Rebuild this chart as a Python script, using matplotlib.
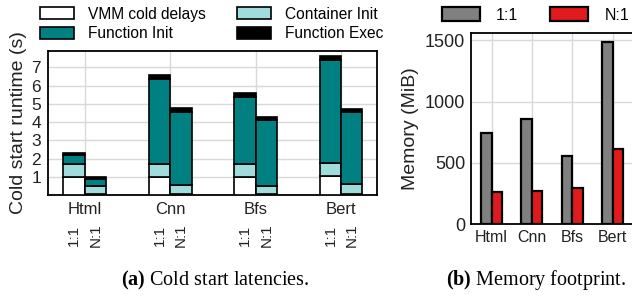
import matplotlib.pyplot as plt
import numpy as np
from matplotlib.patches import Patch

plt.rcParams['font.family'] = ['Liberation Sans', 'DejaVu Sans']
plt.rcParams['mathtext.fontset'] = 'custom'
plt.rcParams['mathtext.bf'] = 'Liberation Serif:bold'
plt.rcParams['mathtext.rm'] = 'Liberation Serif'

# cold start breakdown (seconds), per app: [1:1, N:1]
apps = ['Html', 'Cnn', 'Bfs', 'Bert']
modes = ['1:1', 'N:1']
vmm_cold = [[1.0, 0.05], [1.0, 0.05], [1.0, 0.05], [1.03, 0.05]]
container_init = [[0.69, 0.45], [0.69, 0.50], [0.70, 0.47], [0.72, 0.54]]
function_init = [[0.52, 0.38], [4.70, 4.00], [3.70, 3.57], [5.67, 3.96]]
function_exec = [[0.09, 0.10], [0.22, 0.20], [0.20, 0.20], [0.18, 0.15]]

# memory footprint (MiB)
mem_1to1 = [742, 856, 556, 1486]
mem_nto1 = [259, 273, 292, 611]

stage_names = ['VMM cold delays', 'Container Init', 'Function Init', 'Function Exec']
stage_colors = ['white', '#a0dcdc', '#008080', 'black']

fig = plt.figure(figsize=(6.32, 2.99), dpi=100)

# ---- (a) cold start latencies
ax1 = fig.add_axes([0.076, 0.3478, 0.5205, 0.4816])
x = np.arange(len(apps))
w = 0.25
stages = [vmm_cold, container_init, function_init, function_exec]
for j in range(len(modes)):
    pos = x + (j - 0.5) * w
    bottom = np.zeros(len(apps))
    for vals, c in zip(stages, stage_colors):
        h = np.array([v[j] for v in vals])
        ax1.bar(pos, h, w, bottom=bottom, color=c, edgecolor='black', linewidth=1.2, zorder=3)
        bottom += h
    for p in pos:
        ax1.text(p, -0.28, modes[j], transform=ax1.get_xaxis_transform(),
                 rotation=90, ha='center', va='center', fontsize=11, color='#222222')

ax1.set_xlim(-0.43, 3.42)
ax1.set_ylim(0, 7.9)
ax1.set_yticks(range(1, 8))
ax1.set_xticks(x)
ax1.set_xticklabels(apps, fontsize=12, color='#222222')
ax1.tick_params(axis='y', labelsize=12.5, labelcolor='#222222')
ax1.tick_params(length=0, pad=5)
ax1.set_ylabel('Cold start runtime (s)', fontsize=14, color='#222222', labelpad=3)
ax1.grid(True, color='#d9d9d9', linewidth=1, zorder=0)
for s in ax1.spines.values():
    s.set_linewidth(1.3)

handles = [Patch(facecolor=c, edgecolor='black', linewidth=1.2) for c in stage_colors]
order = [0, 2, 1, 3]
fig.legend([handles[i] for i in order], [stage_names[i] for i in order],
           ncol=2, loc='center', bbox_to_anchor=(0.335, 0.92), frameon=False,
           fontsize=11.2, handlelength=2.2, handleheight=0.8, columnspacing=2.0,
           labelspacing=0.3, handletextpad=0.9, borderpad=0)

# ---- (b) memory footprint
ax2 = fig.add_axes([0.7448, 0.2508, 0.2627, 0.6388])
w2 = 0.26
ax2.bar(x - w2 / 2, mem_1to1, w2, color='#808080', edgecolor='black', linewidth=1.6, zorder=3, label='1:1')
ax2.bar(x + w2 / 2, mem_nto1, w2, color='#e31a1c', edgecolor='black', linewidth=1.6, zorder=3, label='N:1')
ax2.set_xlim(-0.52, 3.6)
ax2.set_ylim(0, 1560)
ax2.set_yticks([0, 500, 1000, 1500])
ax2.set_xticks(x)
ax2.set_xticklabels(apps, fontsize=11.5, color='#222222')
ax2.tick_params(axis='y', labelsize=13, labelcolor='#222222')
ax2.tick_params(length=0, pad=4)
ax2.set_ylabel('Memory (MiB)', fontsize=14, color='#222222', labelpad=4)
ax2.grid(True, color='#d9d9d9', linewidth=1, zorder=0)
for s in ax2.spines.values():
    s.set_linewidth(1.3)
fig.legend(*ax2.get_legend_handles_labels(), ncol=2, loc='center',
           bbox_to_anchor=(0.847, 0.95), frameon=False, fontsize=11.5,
           handlelength=2.4, handleheight=0.9, columnspacing=2.0,
           handletextpad=1.0, borderpad=0)

# captions
fig.text(0.34, 0.063, r'$\mathbf{(a)}$ Cold start latencies.', ha='center', va='center',
         fontsize=14.5, family='Liberation Serif')
fig.text(0.848, 0.063, r'$\mathbf{(b)}$ Memory footprint.', ha='center', va='center',
         fontsize=14.5, family='Liberation Serif')

fig.savefig('out.png', dpi=100)
